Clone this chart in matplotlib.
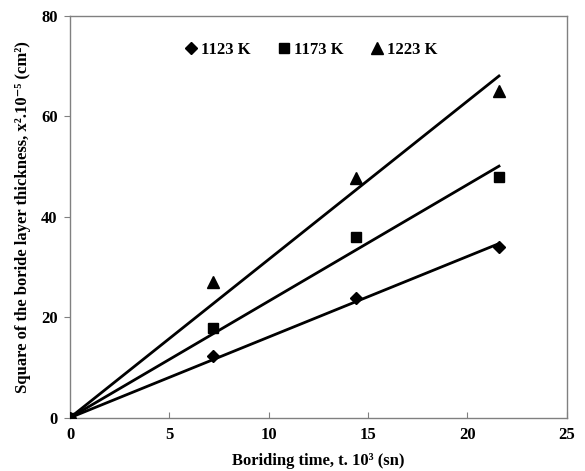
import numpy as np
import matplotlib.pyplot as plt

plt.rcParams['font.family'] = ['Liberation Serif', 'DejaVu Serif']
plt.rcParams['font.weight'] = 'bold'

# boriding time (x 10^3 s)
time = [0, 7.2, 14.4, 21.6]
temps = ['1123 K', '1173 K', '1223 K']
# square of boride layer thickness (x 10^-5 cm^2)
d2_1123 = [0, 12.2, 23.8, 34.0]
d2_1173 = [0, 17.8, 36.0, 48.0]
d2_1223 = [0, 27.0, 47.8, 65.0]
markers = ['D', 's', '^']
msizes = [6, 7, 8]

fig = plt.figure(figsize=(5.85, 4.71), dpi=100)
ax = fig.add_axes([0.1197, 0.1132, 0.8487, 0.8528])

t = np.array(time)
for y, lab, m, ms in zip([d2_1123, d2_1173, d2_1223], temps, markers, msizes):
    y = np.array(y)
    k = (t * y).sum() / (t * t).sum()  # fit through origin
    ax.plot([0, t[-1]], [0, k * t[-1]], color='black', lw=2.0, zorder=2)
    ax.plot(t, y, m, color='black', markersize=ms, label=lab, zorder=3,
            linestyle='none')

ax.set_xlim(0, 25)
ax.set_ylim(0, 80)
ax.set_xticks([0, 5, 10, 15, 20, 25])
ax.set_yticks([0, 20, 40, 60, 80])
for s in ax.spines.values():
    s.set_color('#808080')
    s.set_linewidth(1.0)
ax.tick_params(axis='x', direction='in', length=4, color='#808080', labelsize=12, pad=7)
ax.tick_params(axis='y', direction='out', length=4, color='#808080', labelsize=12, pad=5)
for lbl in ax.get_xticklabels() + ax.get_yticklabels():
    lbl.set_fontweight('bold')

ax.set_xlabel('Boriding time, t. 10³ (sn)', fontsize=12, fontweight='bold', labelpad=7)
ax.set_ylabel('Square of the boride layer thickness, x².10⁻⁵ (cm²)',
              fontsize=12, fontweight='bold', labelpad=7)

ax.legend(loc='center', bbox_to_anchor=(0.484, 0.915), ncol=3, frameon=False,
          handletextpad=0.1, columnspacing=1.5, handlelength=1.0,
          prop={'weight': 'bold', 'size': 12})

fig.savefig('out.png', dpi=100)
